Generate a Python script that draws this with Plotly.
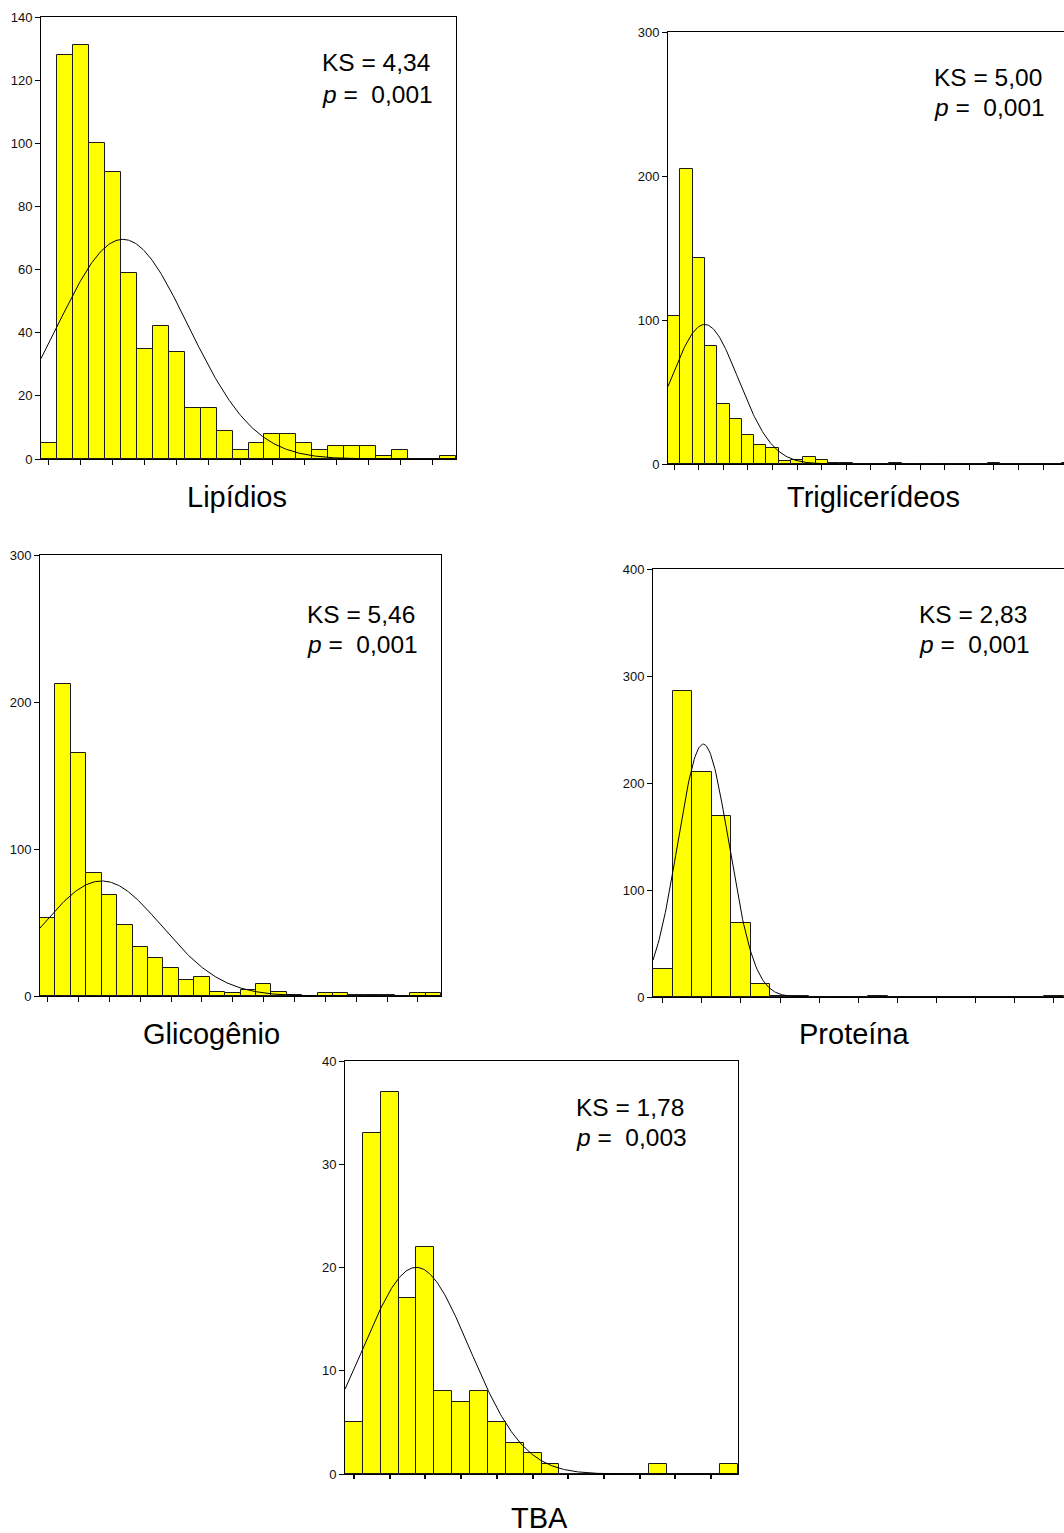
import numpy as np
import plotly.graph_objects as go

W, H = 1064, 1533

# ---------------- data (histogram counts per bin) ----------------
lipidios_counts = [5, 128, 131, 100, 91, 59, 35, 42, 34, 16, 16, 9, 3, 5, 8, 8, 5, 3, 4, 4, 4, 1, 3, 0, 0, 1]
trig_counts = [103, 205, 143, 82, 42, 31, 20, 13, 11, 2, 3, 5, 3, 1, 1, 0, 0, 0, 1, 0, 0, 0, 0, 0, 0, 0, 1,
               0, 0, 0, 0, 0, 1]
glic_counts = [53, 212, 165, 84, 69, 48, 33, 26, 19, 11, 13, 3, 2, 4, 8, 3, 1, 0, 2, 2, 1, 1, 1, 0, 2, 2]
prot_counts = [26, 286, 210, 169, 69, 12, 1, 1, 0, 0, 0, 1, 0, 0, 0, 0, 0, 0, 0, 0, 1]
tba_counts = [5, 33, 37, 17, 22, 8, 7, 8, 5, 3, 2, 1, 0, 0, 0, 0, 0, 1, 0, 0, 0, 1]

# fitted normal curve parameters (mean, sd in bin units)
lipidios_fit = (5.13, 4.10)
trig_fit = (2.98, 2.75)
glic_fit = (4.00, 3.90)
prot_fit = (2.57, 1.31)
tba_fit = (3.99, 2.99)

titles = ["Lipídios", "Triglicerídeos", "Glicogênio", "Proteína", "TBA"]
ks_values = ["4,34", "5,00", "5,46", "2,83", "1,78"]
p_values = ["0,001", "0,001", "0,001", "0,001", "0,003"]

y_ticks = [
    [0, 20, 40, 60, 80, 100, 120, 140],
    [0, 100, 200, 300],
    [0, 100, 200, 300],
    [0, 100, 200, 300, 400],
    [0, 10, 20, 30, 40],
]

# ---------------- layout geometry (pixels) ----------------
panels = [
    dict(counts=lipidios_counts, fit=lipidios_fit, box=(41, 456, 17, 459), yr=140, xr=26.0,
         mirror_y=True, ks=(320, 63, 94), title=(237, 497)),
    dict(counts=trig_counts, fit=trig_fit, box=(668, 1064, 32, 464), yr=300, xr=396 / 12.3,
         mirror_y=False, ks=(932, 77, 107.5), title=(873, 497)),
    dict(counts=glic_counts, fit=glic_fit, box=(40, 441, 555, 996), yr=300, xr=26.0,
         mirror_y=True, ks=(305, 614.5, 644.5), title=(211.5, 1034)),
    dict(counts=prot_counts, fit=prot_fit, box=(653, 1064, 569, 997), yr=400, xr=411 / 19.55,
         mirror_y=False, ks=(917, 614.5, 644.5), title=(854, 1034)),
    dict(counts=tba_counts, fit=tba_fit, box=(345, 738, 1061, 1474), yr=40, xr=22.0,
         mirror_y=True, ks=(574, 1107.5, 1137.5), title=(539.5, 1518)),
]

FONT = "Liberation Sans, Arial, sans-serif"

def px(x):
    return x / W

def py(y):
    return 1 - y / H

fig = go.Figure()
layout = dict(
    width=W, height=H, margin=dict(l=0, r=0, t=0, b=0, autoexpand=False),
    paper_bgcolor="white", plot_bgcolor="white", showlegend=False,
    bargap=0, font=dict(family=FONT, color="black"),
)
annotations = []

for i, p in enumerate(panels):
    n = i + 1
    xa = "x" if n == 1 else f"x{n}"
    ya = "y" if n == 1 else f"y{n}"
    counts = p["counts"]
    centers = [k + 0.5 for k in range(len(counts))]
    fig.add_trace(go.Bar(
        x=centers, y=counts, width=1.0, xaxis=xa, yaxis=ya,
        marker=dict(color="#FFFF00", line=dict(color="#1a1a1a", width=1)),
        hoverinfo="x+y",
    ))
    mu, sd = p["fit"]
    N = sum(counts)
    xs = np.linspace(0, p["xr"], 400)
    ys = N / (sd * np.sqrt(2 * np.pi)) * np.exp(-0.5 * ((xs - mu) / sd) ** 2)
    fig.add_trace(go.Scatter(
        x=xs, y=ys, mode="lines", xaxis=xa, yaxis=ya,
        line=dict(color="black", width=1), hoverinfo="skip",
    ))

    l, r, t, b = p["box"]
    is_tba = n == 5
    layout["xaxis" if n == 1 else f"xaxis{n}"] = dict(
        domain=[px(l), px(r)], anchor=ya, range=[0, p["xr"]],
        showgrid=False, zeroline=False, showline=True, mirror=True,
        linecolor="black", linewidth=1,
        ticks="outside", ticklen=4 if is_tba else 5, tickwidth=2 if is_tba else 1,
        tickcolor="black",
        tickvals=[k + 0.5 for k in range(0, int(p["xr"]), 2)],
        showticklabels=False, fixedrange=True, automargin=False,
    )
    layout["yaxis" if n == 1 else f"yaxis{n}"] = dict(
        domain=[py(b), py(t)], anchor=xa, range=[0, p["yr"]],
        showgrid=False, zeroline=False, showline=True, mirror=p["mirror_y"],
        linecolor="black", linewidth=1,
        ticks="outside", ticklen=5, tickwidth=1, tickcolor="black",
        tickvals=y_ticks[i], ticktext=[str(v) for v in y_ticks[i]],
        tickfont=dict(size=13, color="#111111", family=FONT), fixedrange=True,
        automargin=False,
    )

    kx, k1, k2 = p["ks"]
    annotations.append(dict(
        xref="paper", yref="paper", x=px(kx), y=py(k1), xanchor="left", yanchor="middle",
        text=f"KS = {ks_values[i]}", showarrow=False,
        font=dict(size=24.5, family=FONT, color="black"),
    ))
    annotations.append(dict(
        xref="paper", yref="paper", x=px(kx), y=py(k2), xanchor="left", yanchor="middle",
        text=f"<i>p</i> =\u00a0\u00a0{p_values[i]}",
        showarrow=False, font=dict(size=24.5, family=FONT, color="black"),
    ))
    tx, ty = p["title"]
    annotations.append(dict(
        xref="paper", yref="paper", x=px(tx), y=py(ty), xanchor="center", yanchor="middle",
        text=titles[i], showarrow=False, font=dict(size=29, family=FONT, color="black"),
    ))

layout["annotations"] = annotations
fig.update_layout(**layout)
fig.write_html(
    "out.html",
    config={"displayModeBar": False},
    post_script="document.body.style.margin='0px';document.body.style.overflow='hidden';",
)
